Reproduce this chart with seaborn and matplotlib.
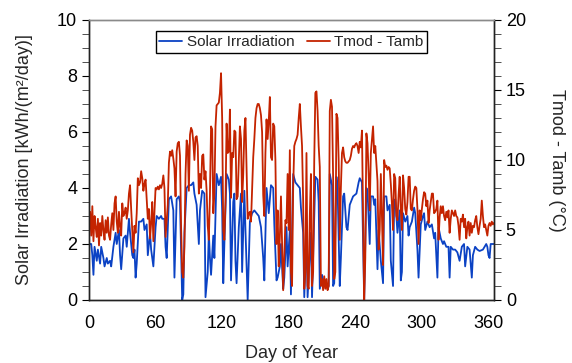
import matplotlib
matplotlib.use("Agg")
import matplotlib.pyplot as plt
import matplotlib.ticker as mticker
import numpy as np
import pandas as pd
import seaborn as sns

# ---- data ----
solar_days = [0, 2, 3, 4, 5, 7, 8, 10, 11, 13, 14, 16, 17, 19, 20, 22, 24, 25, 27, 28, 29, 31, 33, 34, 36, 37, 39, 40,
              41, 42, 43, 45, 47, 49, 50, 52, 53, 55, 56, 58, 60, 61, 63, 65, 66, 68, 69, 70, 72, 74, 76, 77, 79, 81,
              82, 84, 85, 86, 88, 90, 92, 94, 95, 97, 99, 100, 102, 104, 105, 107, 108, 109, 110, 112, 113, 115, 117,
              119, 120, 121, 122, 124, 126, 127, 128, 130, 131, 132, 133, 135, 137, 138, 140, 141, 143, 145, 147, 149,
              151, 153, 155, 157, 158, 160, 162, 164, 166, 167, 169, 170, 172, 173, 175, 176, 178, 179, 181, 182, 184,
              186, 188, 190, 191, 193, 194, 196, 197, 200, 201, 204, 206, 207, 208, 210, 212, 213, 215, 216, 217, 219,
              220, 221, 223, 224, 226, 227, 229, 230, 232, 233, 235, 238, 241, 243, 244, 246, 247, 248, 250, 251, 253,
              254, 256, 257, 258, 260, 261, 263, 265, 266, 268, 269, 271, 272, 274, 275, 276, 278, 280, 281, 282, 283,
              285, 287, 288, 289, 291, 293, 294, 296, 297, 299, 301, 302, 303, 305, 307, 309, 311, 312, 314, 315, 317,
              319, 320, 322, 324, 325, 326, 328, 330, 332, 334, 336, 338, 339, 341, 343, 345, 346, 348, 350, 352, 355,
              358, 359, 360, 361, 362, 365]
solar_vals = [2.0, 2.0, 1.6, 0.9, 1.9, 1.4, 1.8, 1.3, 1.9, 1.5, 1.2, 1.5, 1.3, 1.4, 1.2, 1.9, 2.4, 2.0, 2.5, 1.6, 1.1,
              2.2, 2.3, 1.9, 2.9, 2.4, 1.6, 1.5, 1.8, 0.8, 1.3, 2.8, 2.8, 2.9, 2.5, 2.7, 1.6, 2.4, 1.8, 1.2, 2.6, 3.0,
              2.9, 3.0, 2.9, 2.9, 1.9, 1.5, 3.6, 3.7, 3.2, 0.8, 3.6, 3.7, 3.5, 0.0, 0.2, 2.4, 4.0, 4.1, 4.1, 4.2, 3.8,
              3.4, 2.0, 3.2, 3.9, 3.8, 0.1, 1.0, 2.4, 1.5, 0.9, 2.3, 1.5, 4.5, 4.1, 4.4, 3.2, 0.6, 2.0, 4.5, 4.3, 3.8,
              0.7, 3.5, 3.8, 1.4, 0.6, 2.6, 3.8, 1.0, 3.9, 2.5, 0.0, 2.8, 3.1, 3.2, 3.1, 3.0, 2.6, 1.5, 0.7, 4.0, 3.1,
              4.1, 4.0, 2.7, 0.7, 0.8, 1.2, 2.0, 0.4, 0.8, 2.6, 1.2, 2.5, 0.2, 4.5, 4.2, 4.1, 4.0, 3.3, 2.4, 0.1, 2.4,
              0.1, 2.4, 0.1, 4.4, 4.3, 3.5, 0.4, 0.9, 0.5, 0.6, 0.4, 0.5, 4.5, 4.1, 0.5, 0.6, 4.4, 4.0, 0.5, 1.5, 3.7,
              3.8, 2.6, 2.5, 3.4, 3.7, 3.8, 4.2, 4.35, 4.2, 2.0, 0.0, 4.0, 3.9, 2.0, 3.7, 3.7, 3.4, 3.6, 1.1, 2.5, 1.4,
              0.6, 3.7, 3.7, 3.2, 3.4, 1.4, 0.5, 3.5, 3.6, 2.4, 3.2, 0.7, 1.0, 3.1, 2.8, 3.0, 2.3, 2.6, 2.8, 3.3, 3.1,
              1.8, 0.8, 2.7, 3.0, 3.1, 2.5, 2.8, 2.6, 2.7, 2.2, 2.4, 0.8, 2.6, 2.2, 2.0, 2.1, 1.9, 1.9, 0.8, 1.9, 1.8,
              1.8, 1.7, 1.4, 1.9, 2.0, 1.2, 1.9, 1.8, 0.8, 1.6, 1.9, 1.8, 1.75, 1.8, 2.0, 1.9, 1.6, 1.5, 2.0, 2.0]

tmod_days = list(range(0, 366))
tmod_vals = [5.9, 6.3, 4.6, 6.7, 4.2, 6.0, 5.2, 4.5, 5.8, 3.9, 5.5, 4.6, 6.0, 5.0, 4.3, 5.7, 4.8, 5.9, 4.6, 4.3,
             5.4, 6.2, 5.0, 6.9, 7.4, 5.6, 4.8, 6.3, 5.2, 4.6, 6.9, 6.0, 6.2, 6.6, 5.8, 6.4, 7.6, 8.2, 6.5, 5.0,
             3.4, 5.3, 4.8, 6.2, 8.7, 8.2, 8.4, 9.2, 8.7, 7.8, 8.3, 8.6, 7.2, 5.8, 6.5, 4.4, 5.5, 7.0, 4.2, 6.3,
             8.0, 7.9, 8.1, 7.9, 8.2, 8.0, 8.3, 8.9, 8.0, 4.5, 5.6, 6.8, 9.8, 10.6, 10.3, 10.7, 10.1, 9.4, 7.4, 10.6,
             11.2, 11.3, 10.3, 5.2, 2.0, 1.6, 3.8, 9.0, 11.4, 11.0, 7.8, 11.8, 12.3, 12.1, 11.3, 10.0, 11.6, 11.7, 11.0, 7.6,
             9.0, 8.0, 10.3, 10.4, 8.6, 9.2, 7.8, 5.3, 4.3, 7.5, 12.4, 12.2, 6.2, 7.6, 12.4, 13.9, 14.0, 14.1, 14.8, 16.2,
             13.0, 5.0, 4.3, 7.0, 12.6, 10.5, 10.6, 13.6, 7.3, 10.5, 10.2, 12.1, 12.0, 7.2, 7.4, 10.0, 12.4, 11.5, 7.0, 9.0,
             12.1, 13.0, 9.5, 5.8, 6.2, 6.3, 5.6, 8.0, 10.2, 11.5, 13.0, 13.7, 14.0, 14.0, 13.7, 13.2, 12.0, 7.5, 6.0, 10.5,
             12.9, 11.5, 12.8, 14.5, 10.2, 10.0, 12.6, 12.4, 10.0, 4.0, 6.4, 2.4, 4.5, 7.4, 4.0, 0.7, 3.0, 5.7, 5.5, 9.0,
             5.0, 10.7, 2.0, 1.0, 8.0, 11.0, 11.3, 11.5, 11.8, 13.0, 14.0, 12.4, 11.0, 7.1, 0.8, 2.0, 10.5, 1.0, 0.8, 6.0,
             9.0, 1.0, 2.0, 10.0, 14.8, 14.9, 13.5, 11.0, 9.5, 1.0, 1.5, 0.7, 1.7, 0.8, 1.5, 0.7, 1.0, 13.5, 14.3, 13.8,
             8.8, 1.5, 2.0, 13.3, 13.0, 10.0, 4.3, 8.0, 10.5, 10.9, 10.2, 9.9, 9.8, 9.8, 9.9, 10.0, 10.3, 10.8, 11.0, 10.9,
             11.1, 11.2, 11.0, 10.5, 11.3, 10.9, 12.1, 6.0, 0.0, 3.0, 11.9, 11.2, 9.0, 6.4, 10.5, 11.5, 12.4, 10.5, 11.0, 9.8,
             8.5, 3.6, 5.0, 9.0, 6.0, 2.5, 10.0, 9.5, 9.6, 9.3, 9.5, 9.4, 8.3, 6.9, 5.0, 9.0, 8.7, 6.0, 5.7, 7.5,
             8.8, 6.4, 5.0, 8.9, 8.0, 6.5, 6.1, 7.0, 8.8, 8.8, 6.5, 6.4, 7.2, 7.8, 8.1, 8.0, 6.5, 4.0, 6.4, 5.7,
             6.5, 7.2, 7.7, 7.6, 6.7, 7.1, 5.5, 6.4, 7.0, 7.6, 7.6, 6.2, 6.3, 6.5, 7.1, 4.3, 5.9, 6.7, 6.2, 6.7,
             6.0, 5.7, 6.3, 5.9, 6.4, 4.8, 5.8, 6.4, 6.2, 6.0, 6.4, 6.0, 5.9, 5.3, 4.3, 5.8, 5.6, 6.1, 5.2, 5.8,
             4.4, 5.2, 5.6, 4.6, 5.5, 4.8, 5.3, 5.2, 5.7, 6.0, 5.2, 4.7, 5.3, 5.8, 7.1, 6.0, 5.2, 5.4, 5.0, 4.6,
             5.3, 5.5, 5.3, 5.6, 5.4, 5.5]

x_ticks = [0, 60, 120, 180, 240, 300, 360]
left_ticks = [0, 2, 4, 6, 8, 10]
right_ticks = [0, 5, 10, 15, 20]

solar_df = pd.DataFrame({"day": solar_days, "value": solar_vals})
tmod_df = pd.DataFrame({"day": tmod_days, "value": tmod_vals})

sns.set_style("ticks")
plt.rcParams["font.family"] = ["Liberation Sans", "DejaVu Sans"]

BLUE = "#0b42c4"
RED = "#c42300"

fig = plt.figure(figsize=(5.72, 3.63), dpi=100)
ax = fig.add_axes([89 / 572, 63 / 363, 405 / 572, 280 / 363])
ax2 = ax.twinx()

sns.lineplot(data=solar_df, x="day", y="value", ax=ax, color=BLUE, lw=1.3,
             label="Solar Irradiation", legend=False)
sns.lineplot(data=tmod_df, x="day", y="value", ax=ax2, color=RED, lw=1.3,
             label="Tmod - Tamb", legend=False)

ax.set_xlim(0, 365)
ax.set_ylim(0, 10)
ax2.set_ylim(0, 20)
ax.set_xticks(x_ticks)
ax.set_yticks(left_ticks)
ax2.set_yticks(right_ticks)
ax.yaxis.set_minor_locator(mticker.MultipleLocator(0.5))
ax2.yaxis.set_minor_locator(mticker.MultipleLocator(1))

fs = 13
ax.tick_params(axis="x", length=0, labelsize=fs, pad=11, colors="black")
ax.tick_params(axis="y", which="major", length=5, width=0.8, labelsize=fs, colors="black")
ax.tick_params(axis="y", which="minor", length=5, width=0.6, colors="#333333")
ax2.tick_params(axis="y", which="major", length=5, width=0.8, labelsize=fs, colors="black")
ax2.tick_params(axis="y", which="minor", length=5, width=0.6, colors="#333333")

ax.set_xlabel("Day of Year", fontsize=fs, labelpad=9)
ax.set_ylabel("Solar Irradiation [kWh/(m²/day)]", fontsize=fs, labelpad=17)
ax2.set_ylabel("Tmod - Tamb (°C)", fontsize=fs, rotation=270, labelpad=28)

for a in (ax, ax2):
    a.spines["top"].set_color("#8a8a8a")
    a.spines["top"].set_linewidth(1.0)
    for s in ("left", "right", "bottom"):
        a.spines[s].set_color("#222222")
        a.spines[s].set_linewidth(1.0)

h1, l1 = ax.get_legend_handles_labels()
h2, l2 = ax2.get_legend_handles_labels()
leg = ax2.legend(h1 + h2, l1 + l2, loc="upper center", bbox_to_anchor=(0.5, 0.97), ncol=2,
                 fontsize=11, frameon=True, fancybox=False, handlelength=1.5, handletextpad=0.3,
                 columnspacing=0.8, borderpad=0.25, borderaxespad=0.2)
leg.get_frame().set_edgecolor("black")
leg.get_frame().set_linewidth(1.0)
leg.get_frame().set_alpha(1)

fig.savefig("out.png", dpi=100)
